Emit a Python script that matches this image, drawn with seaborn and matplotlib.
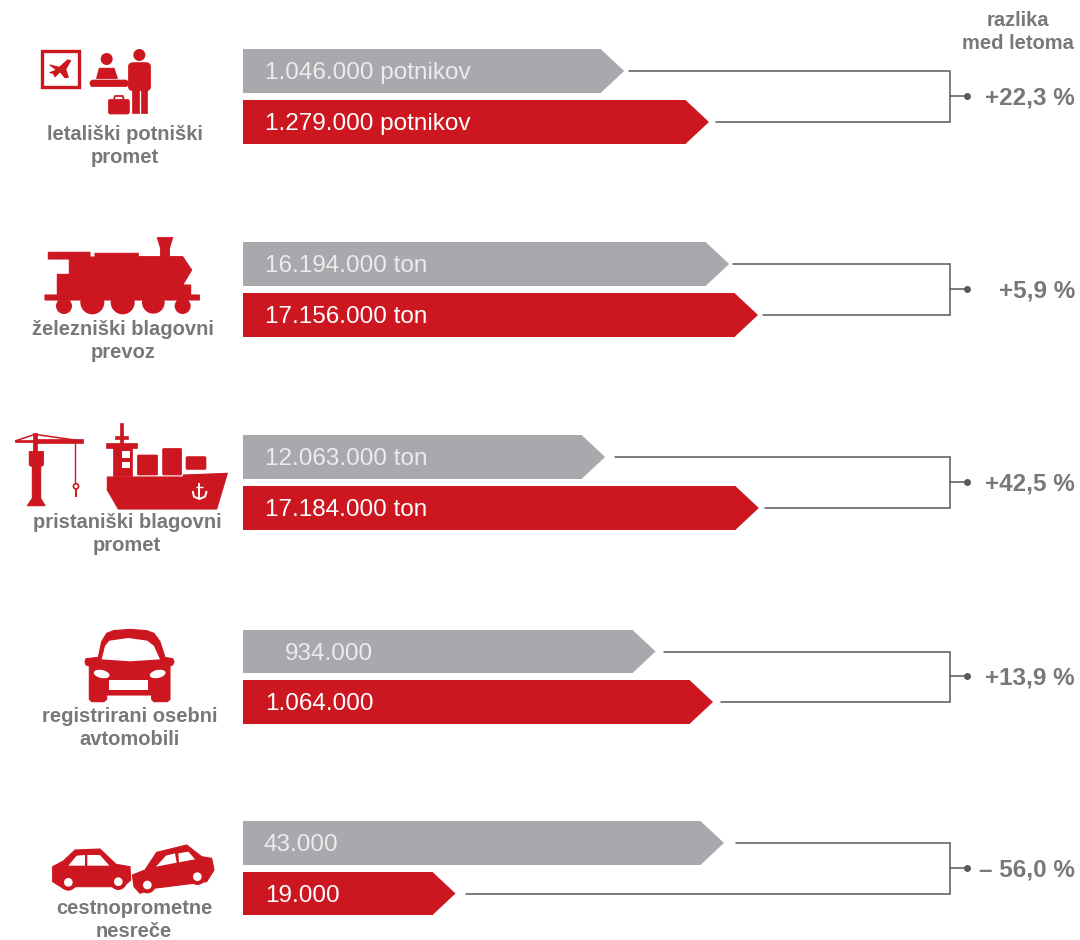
import pandas as pd
import seaborn as sns
import matplotlib.pyplot as plt
from matplotlib.patches import Polygon, Circle, Rectangle, Ellipse, FancyBboxPatch

# values for both years, in the unit of each row
categories = ['letališki potniški\npromet', 'železniški blagovni\nprevoz', 'pristaniški blagovni\npromet',
              'registrirani osebni\navtomobili', 'cestnoprometne\nnesreče']
values_old = [1046000, 16194000, 12063000, 934000, 43000]
values_new = [1279000, 17156000, 17184000, 1064000, 19000]
units = [' potnikov', ' ton', ' ton', '', '']
diffs = ['+22,3 %', '+5,9 %', '+42,5 %', '+13,9 %', '– 56,0 %']

# each row has its own scale, pixels per unit
row_scale = [466 / 1279000, 515 / 17156000, 515 / 17156000, 470 / 1064000, 481 / 43000]

# layout in pixels
row_old_y = [71, 264, 457, 651.5, 843]
row_new_y = [122, 315, 508, 702, 893.5]
gap_old = [5, 4, 10, 8, 12]
gap_new = [7, 5, 6, 8, 10]
label_x = [(265, 265), (265, 265), (265, 265), (285, 265), (264, 265)]
cat_pos = [(125, 146), (123, 341), (127, 534), (130, 728), (134, 920)]
BAR_LEFT = 243
BRACKET_X = 950
TIP = 23

GREY = '#a7a9ac'
RED = '#cd1720'
TEXT = '#77787b'
LINE = '#58595b'
FONT = 'Liberation Sans'


def fmt(v):
    return f'{v:,}'.replace(',', '.')


df = pd.DataFrame({
    'row_y': row_old_y + row_new_y,
    'length': [v * s for v, s in zip(values_old, row_scale)] + [v * s for v, s in zip(values_new, row_scale)],
    'year': ['old'] * 5 + ['new'] * 5,
})

sns.set_style('white')
plt.rcParams['font.family'] = [FONT, 'DejaVu Sans']

fig = plt.figure(figsize=(10.8, 9.4), dpi=100)
ax = fig.add_axes([0, 0, 1, 1])
sns.barplot(data=df, x='length', y='row_y', hue='year', orient='y', native_scale=True, dodge=False,
            palette={'old': GREY, 'new': RED}, saturation=1, width=0.87, errorbar=None, legend=False,
            linewidth=0, ax=ax)
ax.set_xlim(-BAR_LEFT, 1080 - BAR_LEFT)
ax.set_ylim(940, 0)
ax.axis('off')

# turn the flat bars into arrows
for bar in list(ax.patches):
    w = bar.get_width()
    y0 = bar.get_y()
    h = bar.get_height()
    bar.set_width(w - TIP)
    ax.add_patch(Polygon([(w - TIP - 0.5, y0), (w, y0 + h / 2), (w - TIP - 0.5, y0 + h)], closed=True,
                         fc=bar.get_facecolor(), ec='none'))

bx = BRACKET_X - BAR_LEFT
for i in range(5):
    y_old, y_new = row_old_y[i], row_new_y[i]
    x_old = values_old[i] * row_scale[i] + gap_old[i]
    x_new = values_new[i] * row_scale[i] + gap_new[i]
    ax.plot([x_old, bx, bx, x_new], [y_old, y_old, y_new, y_new], color=LINE, lw=1.1, solid_joinstyle='miter')
    mid = (y_old + y_new) / 2 - 0.5
    ax.plot([bx, bx + 16], [mid, mid], color=LINE, lw=1.1)
    ax.plot([bx + 17], [mid], 'o', color=LINE, ms=5, mew=0)
    ax.text(label_x[i][0] - BAR_LEFT, y_old - 0.5, fmt(values_old[i]) + units[i], color='#ececed', fontsize=17.5,
            va='center_baseline', ha='left')
    ax.text(label_x[i][1] - BAR_LEFT, y_new - 0.5, fmt(values_new[i]) + units[i], color='white', fontsize=17.5,
            va='center_baseline', ha='left')
    ax.text(1075 - BAR_LEFT, mid - 0.5, diffs[i], color=TEXT, fontsize=17.5, fontweight='bold',
            va='center_baseline', ha='right')
    ax.text(cat_pos[i][0] - BAR_LEFT, cat_pos[i][1], categories[i], color=TEXT, fontsize=14.5, fontweight='bold',
            va='center', ha='center', linespacing=1.33)

ax.text(1018 - BAR_LEFT, 32, 'razlika\nmed letoma', color=TEXT, fontsize=14.5, fontweight='bold', va='center',
        ha='center', linespacing=1.33)

# icons, drawn in picture pixels on a second axes
ic = fig.add_axes([0, 0, 1, 1])
ic.set_xlim(0, 1080)
ic.set_ylim(940, 0)
ic.axis('off')
ic.patch.set_alpha(0)


def poly(pts, ox, oy, color=RED):
    ic.add_patch(Polygon([(ox + x / 3, oy + y / 3) for x, y in pts], closed=True, fc=color,
                         ec=RED if color == RED else 'none', lw=0.8, joinstyle='round'))


def rect(x0, y0, x1, y1, ox, oy, color=RED):
    ic.add_patch(Rectangle((ox + x0 / 3, oy + y0 / 3), (x1 - x0) / 3, (y1 - y0) / 3, fc=color,
                           ec=RED if color == RED else 'none', lw=0.5))


def round_rect(x0, y0, x1, y1, ox, oy, r=8, color=RED):
    ic.add_patch(FancyBboxPatch((ox + (x0 + r) / 3, oy + (y0 + r) / 3), (x1 - x0 - 2 * r) / 3, (y1 - y0 - 2 * r) / 3,
                                boxstyle=f'round,pad={r / 3},rounding_size={r / 3}', fc=color, ec=RED, lw=0.5))


def circ(x, y, r, ox, oy, color=RED):
    ic.add_patch(Circle((ox + x / 3, oy + y / 3), r / 3, fc=color, ec='none'))


def seg(pts, ox, oy, lw=1.0, color=RED):
    ic.plot([ox + x / 3 for x, y in pts], [oy + y / 3 for x, y in pts], color=color, lw=lw, solid_capstyle='butt')


# airport
ox, oy = 0, 30
ic.add_patch(Rectangle((41.5, 50.5), 37, 36, fc='none', ec=RED, lw=2.4))
poly([(150, 105), (178, 112), (203, 90), (212, 92), (197, 118), (205, 142), (195, 143), (180, 125), (165, 140),
      (160, 130), (150, 128), (170, 120)], ox, oy)
circ(320, 87, 18, ox, oy)
poly([(298, 115), (342, 115), (352, 145), (290, 145)], ox, oy)
round_rect(270, 150, 385, 170, ox, oy, r=9)
circ(418, 75, 18, ox, oy)
round_rect(385, 98, 452, 182, ox, oy, r=14)
rect(397, 170, 416, 250, ox, oy)
rect(422, 170, 440, 250, ox, oy)
round_rect(325, 208, 388, 252, ox, oy, r=6)
seg([(342, 208), (345, 198), (368, 198), (371, 208)], ox, oy, lw=1.3)

# train
ox, oy = 0, 225
poly([(145, 82), (270, 82), (270, 96), (285, 96), (285, 85), (415, 85), (415, 95), (482, 95), (482, 70), (472, 38),
      (518, 38), (508, 70), (508, 95), (548, 95), (575, 135), (548, 180), (572, 180), (572, 210), (598, 210),
      (598, 225), (135, 225), (135, 210), (172, 210), (172, 148), (208, 148), (208, 102), (145, 102)], ox, oy)
for cx, cy, r in [(192, 243, 24), (277, 232, 36), (368, 232, 36), (460, 232, 34), (548, 243, 24)]:
    circ(cx, cy, r, ox, oy)

# crane
ox, oy = 0, 415
seg([(45, 78), (105, 58), (245, 78)], ox, oy, lw=1.1)
rect(45, 75, 105, 80, ox, oy)
rect(105, 72, 250, 85, ox, oy)
rect(98, 55, 112, 110, ox, oy)
poly([(88, 110), (130, 110), (130, 150), (122, 155), (122, 250), (135, 272), (82, 272), (97, 250), (97, 155),
      (88, 150)], ox, oy)
seg([(225, 85), (225, 205)], ox, oy, lw=1.0)
ic.add_patch(Circle((228 / 3, oy + 214 / 3), 2.6, fc='none', ec=RED, lw=1.2))
seg([(228, 222), (228, 245)], ox, oy, lw=1.4)

# ship
poly([(322, 186), (550, 186), (550, 180), (682, 175), (650, 282), (355, 282), (322, 225)], ox, oy)
rect(338, 95, 396, 182, ox, oy)
rect(318, 85, 410, 98, ox, oy)
rect(360, 25, 368, 85, ox, oy)
rect(345, 63, 385, 72, ox, oy)
rect(366, 108, 390, 128, ox, oy, color='white')
rect(366, 142, 390, 158, ox, oy, color='white')
round_rect(412, 120, 473, 180, ox, oy, r=4)
round_rect(488, 100, 545, 180, ox, oy, r=4)
round_rect(558, 125, 618, 163, ox, oy, r=4)
seg([(598, 205), (598, 252)], ox, oy, lw=1.4, color='white')
seg([(588, 215), (608, 215)], ox, oy, lw=1.0, color='white')
seg([(578, 228), (582, 245), (598, 252), (615, 245), (620, 228)], ox, oy, lw=1.4, color='white')

# car
ox, oy = 30, 620
poly([(205, 112), (215, 65), (230, 40), (250, 32), (300, 28), (350, 32), (372, 40), (390, 65), (405, 112), (428, 116),
      (432, 125), (428, 135), (420, 138), (420, 238), (412, 245), (372, 245), (365, 238), (365, 225), (230, 225),
      (230, 238), (222, 245), (185, 245), (178, 238), (178, 138), (168, 135), (165, 125), (168, 116)], ox, oy)
poly([(215, 118), (225, 78), (238, 62), (295, 54), (352, 62), (372, 78), (390, 118), (300, 124)], ox, oy, color='white')
rect(238, 180, 355, 210, ox, oy, color='white')
ic.add_patch(Ellipse((30 + 215 / 3, 620 + 162 / 3), 16, 8, angle=12, fc='white', ec='none'))
ic.add_patch(Ellipse((30 + 383 / 3, 620 + 162 / 3), 16, 8, angle=-12, fc='white', ec='none'))

# crash
ox, oy = 30, 825
poly([(68, 125), (100, 108), (135, 75), (210, 72), (258, 118), (300, 125), (302, 165), (280, 185), (140, 185),
      (100, 190), (68, 170)], ox, oy)
poly([(115, 122), (140, 92), (165, 90), (165, 122)], ox, oy, color='white')
poly([(172, 90), (210, 90), (238, 122), (172, 122)], ox, oy, color='white')
for cx, cy in [(115, 172), (265, 170)]:
    circ(cx, cy, 25, ox, oy)
    circ(cx, cy, 13, ox, oy, color='white')
poly([(307, 150), (345, 135), (380, 82), (470, 60), (515, 95), (545, 100), (552, 135), (530, 170), (370, 190),
      (330, 205), (312, 185)], ox, oy)
poly([(378, 125), (408, 92), (435, 85), (440, 113)], ox, oy, color='white')
poly([(445, 85), (475, 80), (495, 103), (447, 112)], ox, oy, color='white')
for cx, cy in [(352, 180), (502, 155)]:
    circ(cx, cy, 25, ox, oy)
    circ(cx, cy, 13, ox, oy, color='white')

fig.savefig('out.png', dpi=100, facecolor='white')
